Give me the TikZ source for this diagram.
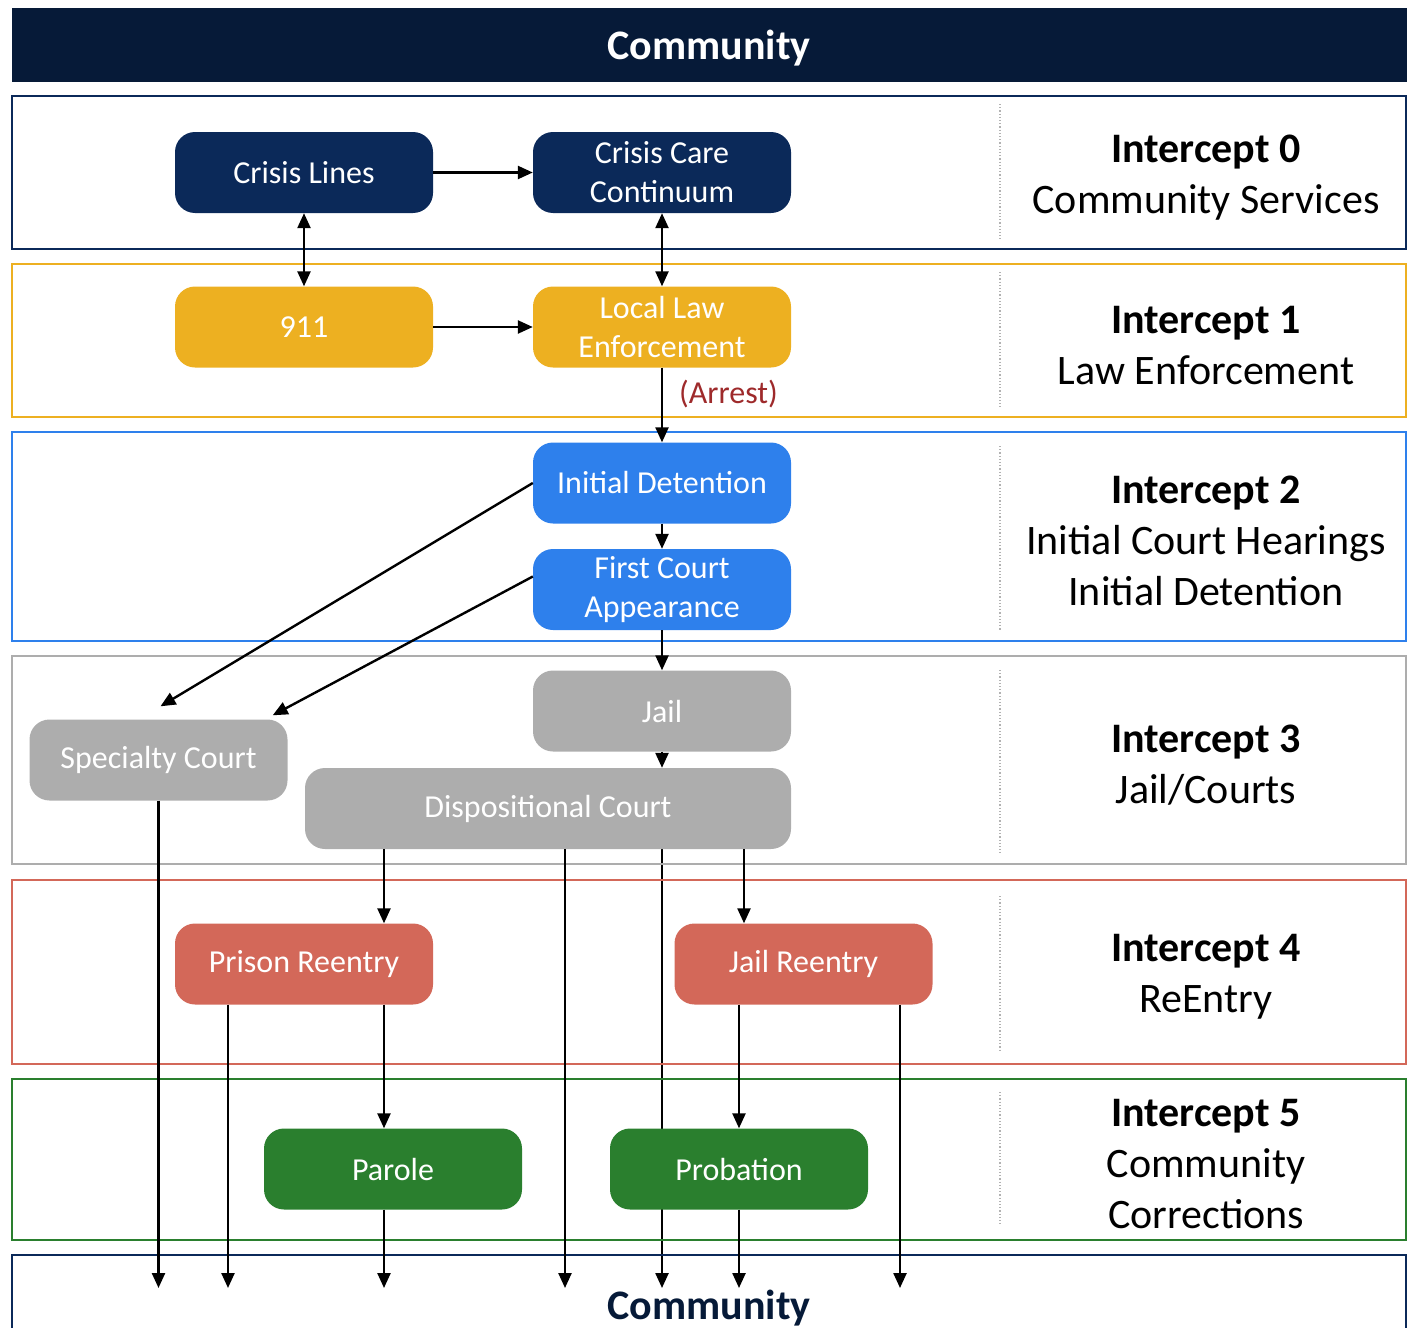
\documentclass[tikz,border=0pt]{standalone}
\usepackage{fontspec}
\setmainfont{Carlito}
\usetikzlibrary{arrows.meta,backgrounds}
\definecolor{navy}{HTML}{061A38}
\definecolor{crisisblue}{HTML}{0B2959}
\definecolor{lawgold}{HTML}{EDB021}
\definecolor{courtblue}{HTML}{2E80EC}
\definecolor{jailgray}{HTML}{ADADAD}
\definecolor{reentryred}{HTML}{D36859}
\definecolor{corrgreen}{HTML}{2A7F2E}
\definecolor{arrestred}{HTML}{9E2A2B}

\begin{document}
\begin{tikzpicture}[x=1pt, y=-1pt,
    stepbox/.style={rectangle, rounded corners=20pt, minimum width=258pt, minimum height=81pt, inner sep=2pt, align=center, text=white, font=\fontsize{32}{39}\selectfont},
    band/.style={line width=1.6pt},
    sep/.style={draw=gray!60, dotted, line width=1.2pt},
    tag/.style={align=center, font=\fontsize{42}{51}\selectfont},
    flow/.style={-{Triangle[length=15pt,width=13pt]}, line width=2.4pt},
    both/.style={{Triangle[length=15pt,width=13pt]}-{Triangle[length=15pt,width=13pt]}, line width=2.4pt}
]
    \useasboundingbox (0,0) rectangle (1407,1327);

    % header and intercept bands
    \fill[navy] (12,8) rectangle (1407,82);
    \node[text=white, font=\bfseries\fontsize{42}{50}\selectfont] (top) at (709,48) {Community};
    \draw[band, draw=crisisblue] (12,96) rectangle (1406,249);
    \draw[band, draw=lawgold] (12,264) rectangle (1406,417);
    \draw[band, draw=courtblue] (12,432) rectangle (1406,641);
    \draw[band, draw=jailgray] (12,656) rectangle (1406,864);
    \draw[band, draw=reentryred] (12,880) rectangle (1406,1064);
    \draw[band, draw=corrgreen] (12,1079) rectangle (1406,1240);
    \draw[band, draw=crisisblue] (12,1335) -- (12,1255) -- (1406,1255) -- (1406,1335);
    \node[text=navy, font=\bfseries\fontsize{42}{50}\selectfont] (bottom) at (709,1308) {Community};
    \coordinate (out) at (709,1288);

    \foreach \ya/\yb in {104/239, 272/407, 446/630, 670/853, 896/1050, 1092/1225}
        \draw[sep] (1000,\ya) -- (1000,\yb);

    \node[tag] (i0) at (1206,177.5) {\textbf{Intercept 0}\\Community Services};
    \node[tag] (i1) at (1206,345.5) {\textbf{Intercept 1}\\Law Enforcement};
    \node[tag] (i2) at (1206,541) {\textbf{Intercept 2}\\Initial Court Hearings\\Initial Detention};
    \node[tag] (i3) at (1206,765) {\textbf{Intercept 3}\\Jail/Courts};
    \node[tag] (i4) at (1206,976.5) {\textbf{Intercept 4}\\ReEntry};
    \node[tag] (i5) at (1206,1164) {\textbf{Intercept 5}\\Community\\Corrections};

    % stages
    \node[stepbox, fill=crisisblue] (crisis) at (304,172.5) {Crisis Lines};
    \node[stepbox, fill=crisisblue] (care) at (662,172.5) {Crisis Care\\Continuum};
    \node[stepbox, fill=lawgold] (call) at (304,327) {911};
    \node[stepbox, fill=lawgold] (police) at (662,327) {Local Law\\Enforcement};
    \node[stepbox, fill=courtblue] (detain) at (662,483) {Initial Detention};
    \node[stepbox, fill=courtblue] (firstct) at (662,589.5) {First Court\\Appearance};
    \node[stepbox, fill=jailgray] (jail) at (662,711) {Jail};
    \node[stepbox, fill=jailgray] (special) at (158.5,760) {Specialty Court};
    \node[stepbox, fill=jailgray, minimum width=486pt] (dispo) at (548,808.5) {Dispositional Court};
    \node[stepbox, fill=reentryred] (prison) at (304,964) {Prison Reentry};
    \node[stepbox, fill=reentryred] (jailre) at (803.5,964) {Jail Reentry};
    \node[stepbox, fill=corrgreen] (parole) at (393,1169) {Parole};
    \node[stepbox, fill=corrgreen] (probat) at (739,1169) {Probation};

    % connectors
    \draw[flow] (crisis.east) -- (care.west);
    \draw[both] (crisis.south) -- (call.north);
    \draw[both] (care.south) -- (police.north);
    \draw[flow] (call.east) -- (police.west);
    \draw[flow] (police.south) -- (detain.north)
        node[pos=0.35, right=16pt, inner sep=0pt, text=arrestred, font=\fontsize{32}{39}\selectfont] (arrest) {(Arrest)};
    \draw[flow] (detain.south) -- (firstct.north);
    \draw[flow] (firstct.south) -- (jail.north);
    \draw[flow] (detain.west) -- ([xshift=2pt, yshift=13pt]special.north);
    \draw[flow] ([yshift=13pt]firstct.west) -- ([xshift=-15pt, yshift=4pt]special.north east);
    \draw[flow] (jail.south) -- (jail.south |- dispo.north);

    \draw[flow] (special.south) -- (special.south |- out);
    \draw[flow] ([xshift=-164pt]dispo.south) -- ([xshift=80pt]prison.north);
    \draw[flow] ([xshift=17pt]dispo.south) -- ([xshift=17pt]dispo.south |- out);
    \begin{scope}[on background layer]
        \draw[flow] (dispo.south -| jail.south) -- (jail.south |- out);
    \end{scope}
    \draw[flow] ([xshift=196pt]dispo.south) -- ([xshift=-59.5pt]jailre.north);
    \draw[flow] ([xshift=-76pt]prison.south) -- ([xshift=-76pt]prison.south |- out);
    \draw[flow] ([xshift=80pt]prison.south) -- ([xshift=-9pt]parole.north);
    \draw[flow] ([xshift=-9pt]parole.south) -- ([xshift=-9pt]parole.south |- out);
    \draw[flow] (jailre.south -| probat.north) -- (probat.north);
    \draw[flow] (probat.south) -- (probat.south |- out);
    \draw[flow] ([xshift=96.5pt]jailre.south) -- ([xshift=96.5pt]jailre.south |- out);
\end{tikzpicture}
\end{document}
